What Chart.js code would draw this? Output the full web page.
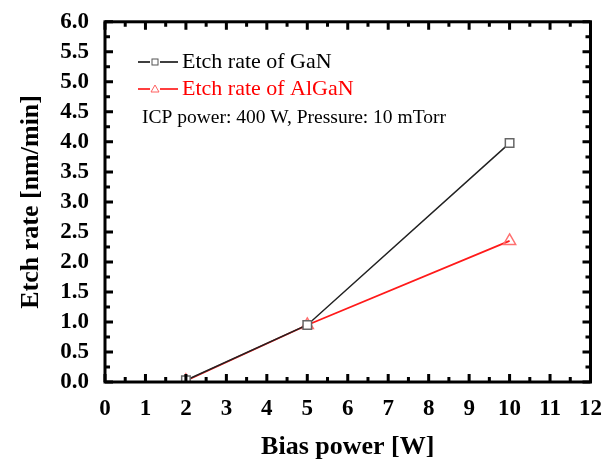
<!DOCTYPE html>
<html>
<head>
<meta charset="utf-8">
<script src="https://cdn.jsdelivr.net/npm/chart.js@4/dist/chart.umd.min.js"></script>
<style>
  html, body { margin: 0; padding: 0; background: #fff; }
  #wrap { width: 607px; height: 467px; }
</style>
</head>
<body>
<div id="wrap"><canvas id="c" width="607" height="467"></canvas></div>
<script>
const biasPower = [2, 5, 10];
const ganRate = [0.03, 0.95, 3.98];
const alganRate = [0.02, 0.95, 2.35];

const legendLabels = ["Etch rate of GaN", "Etch rate of AlGaN"];
const noteText = "ICP power: 400 W, Pressure: 10 mTorr";
const xTitle = "Bias power [W]";
const yTitle = "Etch rate [nm/min]";

const serif = "'Liberation Serif', 'DejaVu Serif', serif";

function pts(xs, ys) {
  return xs.map((x, i) => ({ x: x, y: ys[i] }));
}

// inward ticks on all four sides + thick frame
const frameTicks = {
  id: "frameTicks",
  afterDatasetsDraw(chart) {
    const { ctx, chartArea: a, scales } = chart;
    const xs = scales.x, ys = scales.y;
    ctx.save();
    ctx.strokeStyle = "#000";
    ctx.lineWidth = 3;
    ctx.lineCap = "butt";
    for (let v = 0; v <= 12.001; v += 0.5) {
      const px = xs.getPixelForValue(v);
      const len = Math.abs(v - Math.round(v)) < 0.01 ? 8 : 5;
      ctx.beginPath();
      ctx.moveTo(px, a.bottom); ctx.lineTo(px, a.bottom - len);
      ctx.moveTo(px, a.top); ctx.lineTo(px, a.top + len);
      ctx.stroke();
    }
    for (let v = 0; v <= 6.001; v += 0.25) {
      const py = ys.getPixelForValue(v);
      const len = Math.abs(v * 2 - Math.round(v * 2)) < 0.01 ? 8 : 5;
      ctx.beginPath();
      ctx.moveTo(a.left, py); ctx.lineTo(a.left + len, py);
      ctx.moveTo(a.right, py); ctx.lineTo(a.right - len, py);
      ctx.stroke();
    }
    ctx.lineWidth = 3;
    ctx.strokeRect(a.left, a.top, a.right - a.left, a.bottom - a.top);
    ctx.restore();
  }
};

// legend drawn inside the plot area
const innerLegend = {
  id: "innerLegend",
  afterDraw(chart) {
    const { ctx } = chart;
    ctx.save();
    ctx.font = "22px " + serif;
    ctx.textBaseline = "middle";
    const rows = [
      { y: 62, color: "#000", mark: "#555", label: legendLabels[0], shape: "rect" },
      { y: 89, color: "#ff0000", mark: "#ff6060", label: legendLabels[1], shape: "tri" }
    ];
    rows.forEach(r => {
      const x0 = 155;
      ctx.strokeStyle = r.color;
      ctx.lineWidth = 1.5;
      ctx.beginPath();
      ctx.moveTo(138, r.y); ctx.lineTo(x0 - 5, r.y);
      ctx.moveTo(x0 + 5, r.y); ctx.lineTo(178, r.y);
      ctx.stroke();
      ctx.strokeStyle = r.mark;
      ctx.lineWidth = 1;
      if (r.shape === "rect") {
        ctx.strokeRect(x0 - 3, r.y - 3, 6, 6);
      } else {
        ctx.beginPath();
        ctx.moveTo(x0, r.y - 4); ctx.lineTo(x0 + 4, r.y + 3); ctx.lineTo(x0 - 4, r.y + 3);
        ctx.closePath();
        ctx.stroke();
      }
      ctx.fillStyle = r.color;
      ctx.fillText(r.label, 182, r.y);
    });
    ctx.fillStyle = "#000";
    ctx.font = "19.5px " + serif;
    ctx.fillText(noteText, 142, 118);
    ctx.restore();
  }
};

new Chart(document.getElementById("c"), {
  type: "line",
  data: {
    datasets: [
      {
        label: legendLabels[0],
        data: pts(biasPower, ganRate),
        borderColor: "#222",
        borderWidth: 1.5,
        pointStyle: "rect",
        pointRadius: 6,
        pointBorderColor: "#666",
        pointBorderWidth: 1.5,
        pointBackgroundColor: "rgba(255,255,255,1)",
        tension: 0
      },
      {
        label: legendLabels[1],
        data: pts(biasPower, alganRate),
        borderColor: "#ff1a1a",
        borderWidth: 1.8,
        pointStyle: "triangle",
        pointRadius: 7,
        pointBorderColor: "#ff7070",
        pointBorderWidth: 1.5,
        pointBackgroundColor: "rgba(255,255,255,0)",
        tension: 0
      }
    ]
  },
  options: {
    responsive: false,
    animation: false,
    layout: { padding: { top: 21, right: 13, left: 0, bottom: 0 } },
    plugins: { legend: { display: false }, tooltip: { enabled: false } },
    scales: {
      x: {
        type: "linear",
        min: 0, max: 12,
        grid: { display: false },
        border: { display: false },
        ticks: {
          stepSize: 1,
          autoSkip: false,
          maxRotation: 0,
          padding: 5,
          color: "#000",
          font: { family: serif, size: 23, weight: "bold" }
        },
        title: {
          display: true,
          text: xTitle,
          color: "#000",
          font: { family: serif, size: 26, weight: "bold" },
          padding: { top: 14 }
        },
        afterFit(s) { s.height = 85; }
      },
      y: {
        min: 0, max: 6,
        grid: { display: false },
        border: { display: false },
        ticks: {
          stepSize: 0.5,
          autoSkip: false,
          padding: 8,
          color: "#000",
          font: { family: serif, size: 23, weight: "bold" },
          callback: v => Number(v).toFixed(1)
        },
        title: {
          display: true,
          text: yTitle,
          color: "#000",
          font: { family: serif, size: 26, weight: "bold" },
          padding: { top: 16, bottom: 0 }
        },
        afterFit(s) { s.width = 105; }
      }
    }
  },
  plugins: [frameTicks, innerLegend]
});
</script>
</body>
</html>
